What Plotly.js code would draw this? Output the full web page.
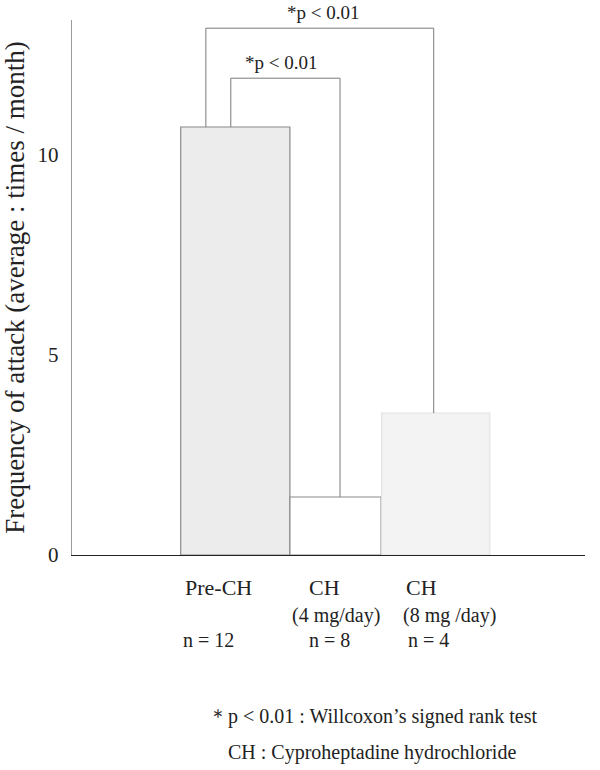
<!DOCTYPE html>
<html>
<head>
<meta charset="utf-8">
<script src="https://cdn.plot.ly/plotly-3.0.1.min.js"></script>
<style>html,body{margin:0;padding:0;background:#fff}#chart{width:600px;height:770px}</style>
</head>
<body>
<div id="chart"></div>
<script>
// ---- data ----
const categories = ['Pre-CH', 'CH (4 mg/day)', 'CH (8 mg /day)'];
const groupNames = ['Pre-CH', 'CH', 'CH'];
const doseLabels = ['', '(4 mg/day)', '(8 mg /day)'];
const sampleSizes = [12, 8, 4];
const attackFrequency = [10.7, 1.45, 3.55];
const comparisons = [[0, 1], [0, 2]];
const comparisonLabels = ['*p < 0.01', '*p < 0.01'];
const comparisonLevels = [11.92, 13.17];
const yTicks = [0, 5, 10];
const footnotes = ['\uFF0Ap < 0.01 : Willcoxon\u2019s signed rank test', 'CH : Cyproheptadine hydrochloride'];

// ---- styles ----
const FONT = 'Liberation Serif, Times New Roman, serif';
const fills = ['#ececec', '#ffffff', '#f3f3f3'];
const outlines = ['#8a8a8a', '#8a8a8a', '#e2e2e2'];
const widths = [1.09, 0.91, 1.08];
const legOffsets = [[-0.045, 0.045], [-0.294, -0.02]];
const labelShift = { name: [-16.5, -11.5, -14], dose: [0, 0.5, 14], n: [-26.5, -6.5, -7] };

const trace = {
  type: 'bar',
  x: categories,
  y: attackFrequency,
  width: widths,
  marker: { color: fills, line: { color: outlines, width: 1.2 } },
  hoverinfo: 'x+y'
};

const shapes = [];
const annotations = [];
comparisons.forEach((pair, k) => {
  const [a, b] = pair;
  const xa = a + legOffsets[k][0], xb = b + legOffsets[k][1];
  const lvl = comparisonLevels[k];
  const line = { color: '#7a7a7a', width: 1 };
  shapes.push({ type: 'line', xref: 'x', yref: 'y', x0: xa, x1: xa, y0: attackFrequency[a], y1: lvl, line });
  shapes.push({ type: 'line', xref: 'x', yref: 'y', x0: xa, x1: xb, y0: lvl, y1: lvl, line });
  shapes.push({ type: 'line', xref: 'x', yref: 'y', x0: xb, x1: xb, y0: attackFrequency[b], y1: lvl, line });
  annotations.push({ xref: 'x', yref: 'y', x: (xa + xb) / 2, y: lvl, yanchor: 'bottom', xanchor: 'center',
    xshift: k === 0 ? -4 : 3, yshift: 3, showarrow: false, text: comparisonLabels[k],
    font: { family: FONT, size: 19, color: '#222' } });
});

categories.forEach((c, i) => {
  annotations.push({ xref: 'x', yref: 'paper', x: i, y: 0, yanchor: 'middle', xanchor: 'center',
    xshift: labelShift.name[i], yshift: -32, showarrow: false, text: groupNames[i],
    font: { family: FONT, size: 22, color: '#222' } });
  if (doseLabels[i]) annotations.push({ xref: 'x', yref: 'paper', x: i, y: 0, yanchor: 'middle', xanchor: 'center',
    xshift: labelShift.dose[i], yshift: -60, showarrow: false, text: doseLabels[i],
    font: { family: FONT, size: 20, color: '#222' } });
  annotations.push({ xref: 'x', yref: 'paper', x: i, y: 0, yanchor: 'middle', xanchor: 'center',
    xshift: labelShift.n[i], yshift: -85, showarrow: false, text: 'n = ' + sampleSizes[i],
    font: { family: FONT, size: 20, color: '#222' } });
});

footnotes.forEach((t, j) => {
  annotations.push({ xref: 'paper', yref: 'paper', x: (372 - 72) / 513, y: 0, yanchor: 'middle', xanchor: 'center',
    yshift: j === 0 ? -161 : -197, showarrow: false, text: t,
    font: { family: FONT, size: 20, color: '#222' } });
});

const layout = {
  width: 600, height: 770,
  margin: { l: 72, r: 15, t: 20, b: 215 },
  paper_bgcolor: '#fff', plot_bgcolor: '#fff',
  showlegend: false,
  bargap: 0,
  xaxis: {
    type: 'category', range: [-1.63, 3.49], showticklabels: false, ticks: '',
    showgrid: false, zeroline: false, showline: true, linecolor: '#222', linewidth: 1.2, fixedrange: true
  },
  yaxis: {
    range: [0, 13.375], tickvals: yTicks, ticktext: yTicks.map(String), ticks: '',
    ticklabelstandoff: 8,
    showgrid: false, zeroline: false, showline: true, linecolor: '#9a9a9a', linewidth: 1.2,
    tickfont: { family: FONT, size: 21, color: '#222' },
    title: { text: 'Frequency of attack (average : times / month)', standoff: 16,
      font: { family: FONT, size: 27, color: '#222' } },
    fixedrange: true
  },
  shapes, annotations
};

Plotly.newPlot('chart', [trace], layout, { displayModeBar: false, staticPlot: true });
</script>
</body>
</html>
